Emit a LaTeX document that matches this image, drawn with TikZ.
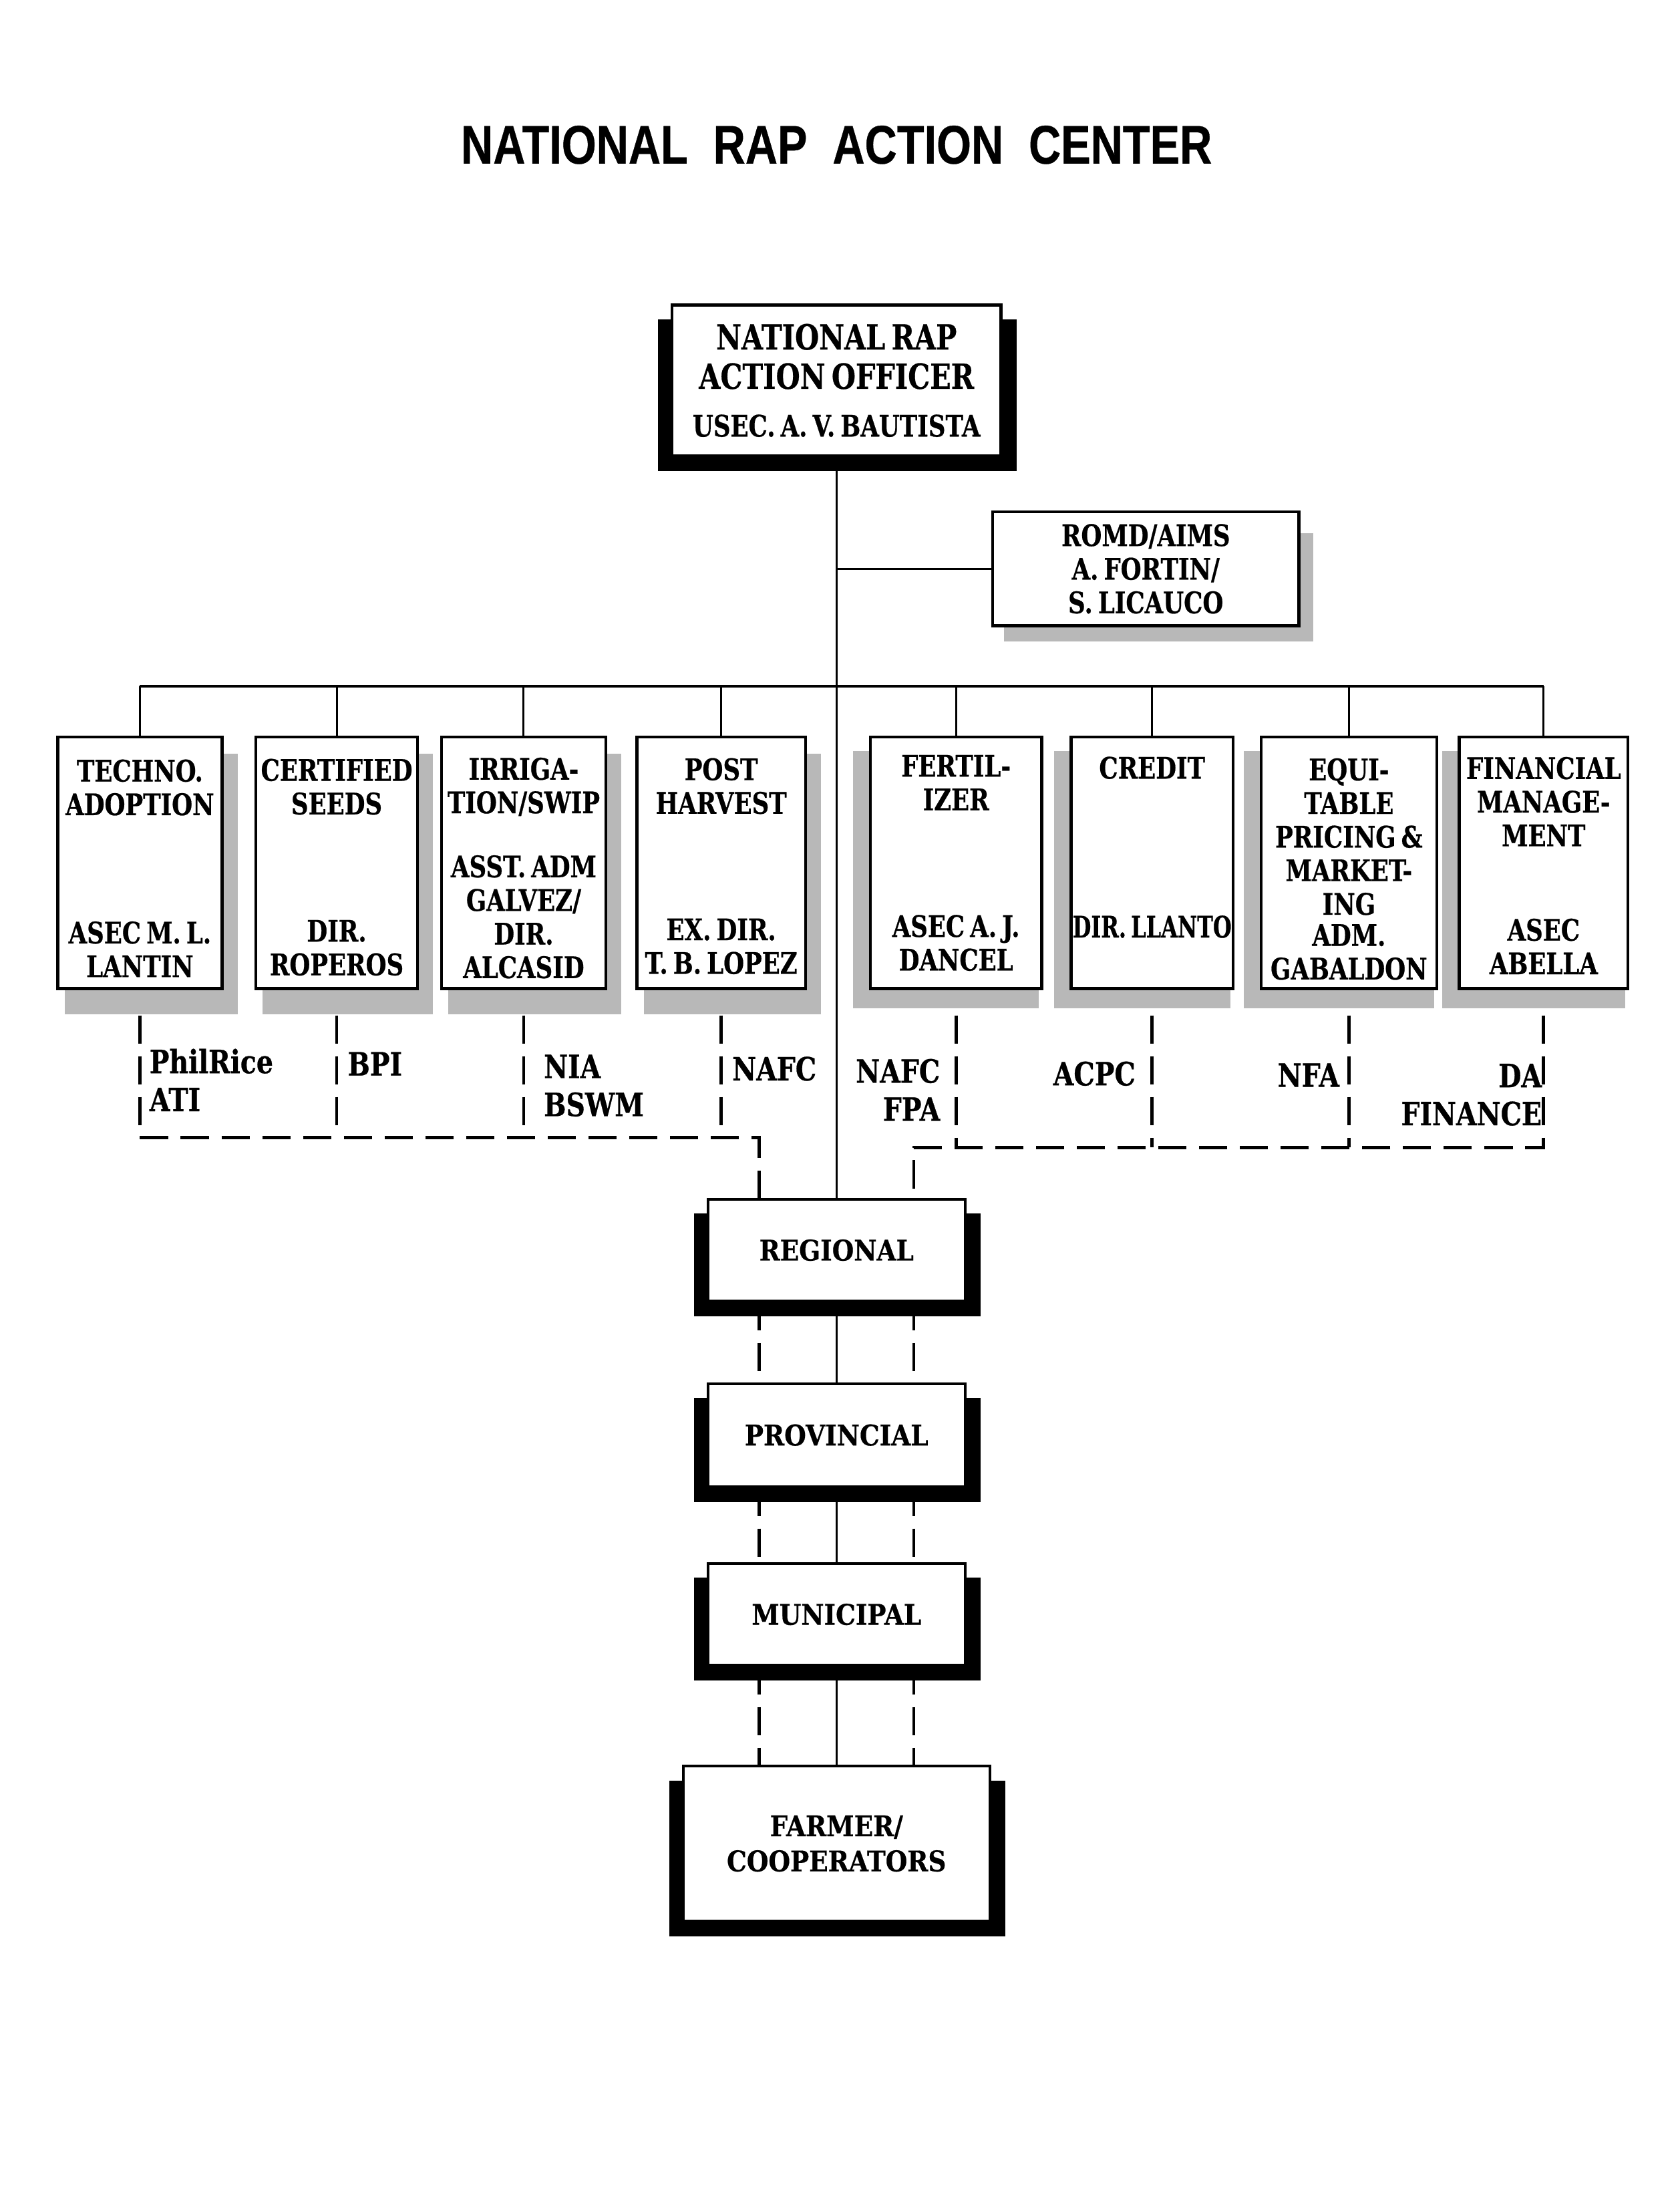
\documentclass[tikz,border=0pt]{standalone}
\usepackage{fontspec}
\usetikzlibrary{calc,backgrounds}
\newfontfamily\boxfont{DejaVu Serif}[FakeStretch=0.8,FakeBold=0.5,WordSpace=0.65]
\newfontfamily\narrowfont{DejaVu Serif}[FakeStretch=0.72,FakeBold=0.5,WordSpace=0.65]
\newfontfamily\lblfont{DejaVu Serif}[FakeStretch=0.82,FakeBold=0.5]
\newfontfamily\lvlfont{DejaVu Serif}[FakeStretch=0.88,FakeBold=0.5]
\newfontfamily\titlefont{Liberation Sans}[FakeStretch=0.82,FakeBold=0.5]

\begin{document}
\begin{tikzpicture}[x=0.2mm, y=-0.2mm,
        conn/.style={line width=0.8pt},
        busline/.style={line width=1pt},
        dashline/.style={line width=1.3pt, dash pattern=on 4mm off 1.8mm},
        boxline/.style={draw, line width=1.2pt, fill=white, inner sep=0pt},
        deptbox/.style={boxline, minimum width=23.6mm, minimum height=35.8mm},
        boxtext/.style={font=\boxfont\bfseries\fontsize{12}{13.6}\selectfont, align=center, inner sep=0pt},
        narrowtext/.style={boxtext, font=\narrowfont\bfseries\fontsize{12}{13.6}\selectfont},
        levelbox/.style={boxline, line width=1.1pt, minimum width=36.6mm, minimum height=14.4mm,
            font=\lvlfont\bfseries\fontsize{11.5}{14.2}\selectfont, align=center},
        lbltext/.style={font=\lblfont\bfseries\fontsize{13}{15.4}\selectfont, align=left, inner sep=0pt},
        darkshadow/.style={fill=black},
        greyshadow/.style={fill=black!28}]
    \useasboundingbox (0,0) rectangle (1195,1568);

    % title
    \node[font=\titlefont\bfseries\fontsize{22}{26}\selectfont, inner sep=0pt] (title) at (595,103)
        {\spaceskip=3.6mm NATIONAL RAP ACTION CENTER};

    % top of the chart
    \node[boxline, boxtext, minimum width=46.8mm, minimum height=21.4mm,
        font=\boxfont\bfseries\fontsize{14}{15.9}\selectfont] (nrao) at (595,270.5)
        {NATIONAL RAP\\ACTION OFFICER\\[1.2mm]{\fontsize{12}{14}\selectfont USEC. A. V. BAUTISTA}};
    \node[boxline, boxtext, minimum width=43.6mm, minimum height=16.2mm] (romd) at (815,404.5)
        {ROMD/AIMS\\A. FORTIN/\\S. LICAUCO};

    % the eight program boxes
    \node[deptbox, minimum width=23.4mm] (techno) at (99.5,613.5) {};
    \node[deptbox, minimum width=23mm] (seeds) at (239.5,613.5) {};
    \node[deptbox, minimum width=23.4mm] (irrig) at (372.5,613.5) {};
    \node[deptbox, minimum width=24mm] (postharv) at (513,613.5) {};
    \node[deptbox, minimum width=24.4mm] (fert) at (680,613.5) {};
    \node[deptbox, minimum width=23mm] (credit) at (819.5,613.5) {};
    \node[deptbox, minimum width=25mm] (equit) at (959.5,613.5) {};
    \node[deptbox, minimum width=24mm] (finance) at (1098,613.5) {};

    \node[boxtext] (technohead) at (99.5,560) {TECHNO.\\ADOPTION};
    \node[boxtext] (technoname) at (99.5,675) {ASEC M. L.\\LANTIN};
    \node[boxtext] (seedshead) at (239.5,559.5) {CERTIFIED\\SEEDS};
    \node[boxtext] (seedsname) at (239.5,674) {DIR.\\ROPEROS};
    \node[boxtext] (irrighead) at (372.5,559.5) {IRRIGA-\\TION/SWIP};
    \node[boxtext] (irrigname) at (372.5,652) {ASST. ADM\\GALVEZ/\\DIR.\\ALCASID};
    \node[boxtext] (postharvhead) at (513,559) {POST\\HARVEST};
    \node[boxtext] (postharvname) at (513,673) {EX. DIR.\\T. B. LOPEZ};
    \node[boxtext] (ferthead) at (680,556.5) {FERTIL-\\IZER};
    \node[boxtext] (fertname) at (680,670.5) {ASEC A. J.\\DANCEL};
    \node[boxtext] (credithead) at (819.5,546) {CREDIT};
    \node[narrowtext] (creditname) at (819.5,659) {DIR. LLANTO};
    \node[boxtext] (equithead) at (959.5,595) {EQUI-\\TABLE\\PRICING \&\\MARKET-\\ING};
    \node[boxtext] (equitname) at (959.5,677) {ADM.\\GABALDON};
    \node[boxtext] (financehead) at (1098,570) {FINANCIAL\\MANAGE-\\MENT};
    \node[boxtext] (financename) at (1098,673) {ASEC\\ABELLA};

    % attached agencies
    \node[lbltext, anchor=west] (philrice) at (106,768) {PhilRice\\ATI};
    \node[lbltext, anchor=west] (bpi) at (247,756.5) {BPI};
    \node[lbltext, anchor=west] (nia) at (386.5,772) {NIA\\BSWM};
    \node[lbltext, anchor=west] (nafcl) at (520.5,760) {NAFC};
    \node[lbltext, anchor=east, align=right] (nafcr) at (669,775) {NAFC\\FPA};
    \node[lbltext, anchor=east] (acpc) at (808,763.5) {ACPC};
    \node[lbltext, anchor=east] (nfa) at (953,764.5) {NFA};
    \node[lbltext, anchor=east, align=right] (dafin) at (1097,778.5) {DA\\FINANCE};

    % field levels
    \node[levelbox] (regional) at (595,889) {REGIONAL};
    \node[levelbox, minimum height=14.6mm] (provincial) at (595,1020.5) {PROVINCIAL};
    \node[levelbox] (municipal) at (595,1148) {MUNICIPAL};
    \node[levelbox, minimum width=43.6mm, minimum height=22mm] (farmer) at (595,1311) {FARMER/\\COOPERATORS};

    \coordinate (bus) at (595,488);
    \coordinate (ljoin) at ($(regional.north)+(-55,-43)$);
    \coordinate (rjoin) at ($(regional.north)+(55,-36)$);

    \begin{scope}[on background layer]
        \fill[white] (0,0) rectangle (1195,1568);
        % solid lines
        \draw[conn] (nrao.south) -- (regional.north);
        \draw[conn] (romd.west) -- (romd.west -| nrao.south);
        \draw[busline] (techno.north |- bus) -- (finance.north |- bus);
        \foreach \n in {techno,seeds,irrig,postharv,fert,credit,equit,finance}
            \draw[conn] (\n.north) -- (\n.north |- bus);
        % dashed lines
        \draw[dashline] ($(techno.south)+(0,18)$) |- (ljoin) -- (ljoin |- regional.north);
        \foreach \n in {seeds,irrig,postharv}
            \draw[dashline] ($(\n.south)+(0,18)$) -- (\n.south |- ljoin);
        \draw[dashline] ($(finance.south)+(0,18)$) |- (rjoin) -- (rjoin |- regional.north);
        \foreach \n in {fert,credit,equit}
            \draw[dashline] ($(\n.south)+(0,18)$) -- (\n.south |- rjoin);
        \foreach \a/\b in {regional/provincial,provincial/municipal,municipal/farmer} {
            \draw[conn] (\a.south) -- (\b.north);
            \draw[dashline] ($(\a.south)+(-55,0)$) -- ($(\b.north)+(-55,0)$);
            \draw[dashline] ($(\a.south)+(55,0)$) -- ($(\b.north)+(55,0)$);
        }
        % shadows
        \foreach \n in {nrao,regional,provincial,municipal,farmer}
            \fill[darkshadow] ($(\n.north west)+(-9,11)$) rectangle ($(\n.south east)+(10,10)$);
        \foreach \n in {techno,seeds,irrig,postharv}
            \fill[greyshadow] ($(\n.north west)+(6,13)$) rectangle ($(\n.south east)+(10,17)$);
        \foreach \n in {fert,credit,equit,finance}
            \fill[greyshadow] ($(\n.north west)+(-11,11)$) rectangle ($(\n.south east)+(-3,13)$);
        \fill[greyshadow] ($(romd.north west)+(9,16)$) rectangle ($(romd.south east)+(9,10)$);
    \end{scope}
\end{tikzpicture}
\end{document}
